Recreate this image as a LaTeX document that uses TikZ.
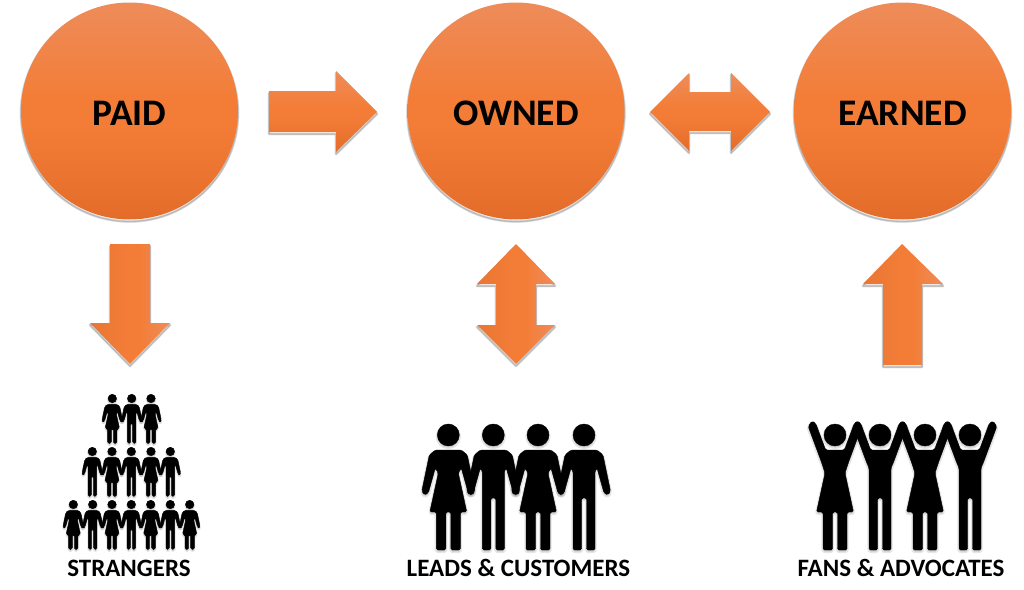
\documentclass[tikz,border=0pt]{standalone}
\usepackage{fontspec}
\setmainfont{Carlito}
\definecolor{ortop}{RGB}{238,140,90}
\definecolor{ormid}{RGB}{243,125,55}
\definecolor{orbot}{RGB}{228,108,42}
\definecolor{orleft}{RGB}{233,118,52}
\pgfdeclareverticalshading{orvert}{100bp}{color(0bp)=(orbot); color(25bp)=(orbot); color(47bp)=(ormid); color(53bp)=(ormid); color(75bp)=(ortop); color(100bp)=(ortop)}
\pgfdeclarehorizontalshading{orhorz}{100bp}{color(0bp)=(orleft); color(25bp)=(orleft); color(48bp)=(ormid); color(56bp)=(ormid); color(75bp)=(ortop); color(100bp)=(ortop)}
\tikzset{
  x=1pt,y=-1pt,
  vgrad/.style={shading=orvert},
  hgrad/.style={shading=orhorz},
  ballnode/.style={circle,minimum size=217pt,inner sep=0pt,shading=orvert},
  balltext/.style={font=\bfseries\fontsize{37.5}{37.5}\selectfont,text=black,inner sep=0pt},
  caption/.style={font=\bfseries\fontsize{25}{25}\selectfont,text=black,inner sep=0pt},
  bodyshape/.style={rounded corners=1.5pt,line join=round},
  manfig/.pic={
    \path[pic actions] (0,0) circle (11);
    \path[pic actions,bodyshape] (-13,15)--(13,15)--(19,20)--(26.5,56)--(24,60)--(20,58)--(13,33)--(11,36)--(11,115)--(2.5,115)--(2.5,63)--(-2.5,63)--(-2.5,115)--(-11,115)--(-11,36)--(-13,33)--(-20,58)--(-24,60)--(-26.5,56)--(-19,20)--cycle;
  },
  womanfig/.pic={
    \path[pic actions] (0,0) circle (11);
    \path[pic actions,bodyshape] (-13,15)--(13,15)--(19,20)--(26.5,56)--(24,60)--(20,58)--(13,33)--(10,38)--(18.5,77)--(12,77)--(12,115)--(2.5,115)--(2.5,77)--(-2.5,77)--(-2.5,115)--(-12,115)--(-12,77)--(-18.5,77)--(-10,38)--(-13,33)--(-20,58)--(-24,60)--(-26.5,56)--(-19,20)--cycle;
  },
  fanman/.pic={
    \path[pic actions] (0,0) circle (11);
    \path[pic actions,bodyshape] (-9.4,15)--(9.4,15)--(19.2,-11.4)--(23,-14)--(26.8,-8.6)--(13.8,26.4)--(11,33)--(11,115)--(2.5,115)--(2.5,63)--(-2.5,63)--(-2.5,115)--(-11,115)--(-11,33)--(-13.8,26.4)--(-26.8,-8.6)--(-23,-14)--(-19.2,-11.4)--cycle;
  },
  fanwoman/.pic={
    \path[pic actions] (0,0) circle (11);
    \path[pic actions,bodyshape] (-9.4,15)--(9.4,15)--(19.2,-11.4)--(23,-14)--(26.8,-8.6)--(13.8,26.4)--(10,38)--(18.5,77)--(12,77)--(12,115)--(2.5,115)--(2.5,77)--(-2.5,77)--(-2.5,115)--(-12,115)--(-12,77)--(-18.5,77)--(-10,38)--(-13.8,26.4)--(-26.8,-8.6)--(-23,-14)--(-19.2,-11.4)--cycle;
  },
}
% soft grey rim falling below a shape only
\newcommand{\softshadow}[1]{%
  \foreach \w in {2.8,1.8,1}{\draw[black,opacity=.1,line width=\w pt,line join=round,yshift=-2pt] #1;}}
\newcommand{\blockarrow}[2]{\softshadow{#2}\path[#1] #2;}
\newcommand{\people}[2]{% scale, list type/x/y
  \foreach \t/\px/\py in {#2}{\pic[draw=black,fill=black,opacity=.1,line width=1.2+2*#1 pt,scale=#1] at (\px,\py+1.5) {\t};}
  \foreach \t/\px/\py in {#2}{\pic[draw=black,fill=black,line width=.4pt,scale=#1] at (\px,\py) {\t};}}
\begin{document}
\begin{tikzpicture}
\useasboundingbox (0,0) rectangle (1024,589);
\fill[white] (0,0) rectangle (1024,589);
% circles
\softshadow{(129.5,111) circle (108.5)}
\softshadow{(516,111) circle (108.5)}
\softshadow{(902.5,111) circle (108.5)}
\node[ballnode] (paid) at (129.5,111) {};
\node[ballnode] (owned) at (516,111) {};
\node[ballnode] (earned) at (902.5,111) {};
\node[balltext] (paidt) at (129.5,113) {PAID};
\node[balltext] (ownedt) at (516,113) {OWNED};
\node[balltext] (earnedt) at (902.5,113) {EARNED};
% arrows
\blockarrow{vgrad}{(269,91)--(336,91)--(336,71)--(377,112)--(336,152)--(336,132)--(269,132)--cycle}
\blockarrow{vgrad}{(650,112)--(689,73)--(689,92)--(731,92)--(731,73)--(770,112)--(731,151)--(731,131)--(689,131)--(689,151)--cycle}
\blockarrow{hgrad}{(110,244)--(150,244)--(150,323)--(170,323)--(130,364)--(90,323)--(110,323)--cycle}
\blockarrow{hgrad}{(516,244)--(555,284)--(536,284)--(536,325)--(555,325)--(516,364)--(477,325)--(496,325)--(496,284)--(477,284)--cycle}
\blockarrow{hgrad}{(902,244)--(943,284)--(922,284)--(922,365)--(883,365)--(883,284)--(863,284)--cycle}
% crowds
\people{.39}{womanfig/112.3/398.5,manfig/131.7/398.5,womanfig/151/398.5,
  manfig/92.3/451.5,womanfig/112/451.5,manfig/131.3/451.5,womanfig/151/451.5,manfig/170.3/451.5,
  womanfig/73.3/504.5,manfig/92.7/504.5,womanfig/112/504.5,manfig/131.3/504.5,womanfig/150.7/504.5,manfig/170.3/504.5,womanfig/189.7/504.5}
\people{1}{womanfig/448.3/435,manfig/493.3/435,womanfig/538/435,manfig/584/435}
\people{1}{fanwoman/835/435,fanman/880/435,fanwoman/925/435,fanman/970/435}
% captions
\node[caption] (strangers) at (129,568) {STRANGERS};
\node[caption] (leads) at (518.5,568) {LEADS \& CUSTOMERS};
\node[caption] (fans) at (901,568) {FANS \& ADVOCATES};
\end{tikzpicture}
\end{document}
